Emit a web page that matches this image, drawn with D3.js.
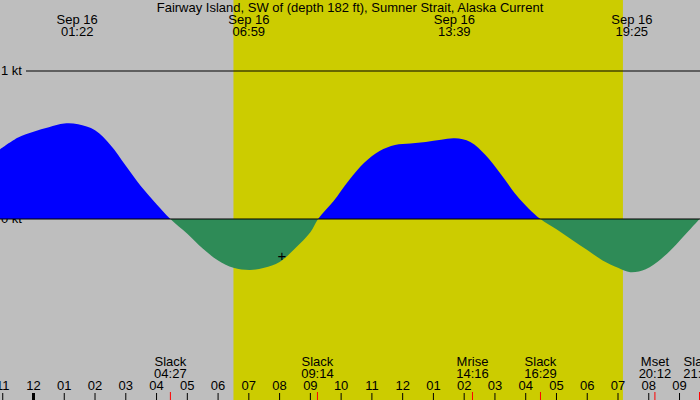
<!DOCTYPE html><html><head><meta charset="utf-8"><script src="https://cdn.jsdelivr.net/npm/d3@7"></script>
<style>body{margin:0}svg{display:block;font-family:"Liberation Sans",Arial,sans-serif;font-size:13px}</style></head><body><svg width="700" height="400"></svg>
<script>
const title="Fairway Island, SW of (depth 182 ft), Sumner Strait, Alaska Current";
const hours=[-0.5,-1.09,0.5,1,1.45,2,2.5,3,3.5,4,4.45,5,5.5,6,6.5,7.04,7.5,8,8.5,9,9.25,9.75,10.25,10.75,11.25,11.75,12.25,12.75,13.25,13.7,14.2,14.7,15.2,15.7,16.1,16.48,17,17.5,18,18.5,19,19.4,19.9,20.4,20.9,21.3,21.65];
const speeds=[0.55,0.47,0.62,0.645,0.64,0.6,0.5,0.36,0.22,0.1,0,-0.1,-0.2,-0.28,-0.33,-0.345,-0.33,-0.29,-0.2,-0.09,0,0.12,0.26,0.38,0.46,0.5,0.51,0.52,0.535,0.545,0.52,0.43,0.3,0.16,0.07,0,-0.07,-0.14,-0.21,-0.28,-0.33,-0.36,-0.34,-0.27,-0.17,-0.08,0];
const hours0=[0];const speeds0=[0.59];
const daylight=[6.5,19.16];
const topLabels=[{h:1.42,d:"Sep 16",t:"01:22"},{h:7.0,d:"Sep 16",t:"06:59"},{h:13.68,d:"Sep 16",t:"13:39"},{h:19.45,d:"Sep 16",t:"19:25"}];
const events=[{h:4.45,n:"Slack",t:"04:27"},{h:9.23,n:"Slack",t:"09:14"},{h:14.27,n:"Mrise",t:"14:16"},{h:16.48,n:"Slack",t:"16:29"},{h:20.2,n:"Mset",t:"20:12"},{h:21.65,n:"Slack",t:"21:39"}];
const tickHours=d3.range(-1,22);
const tickLabels=tickHours.map(h=>{let v=((h%12)+12)%12;return String(v===0?12:v).padStart(2,"0");});
const kts=[0,1];
const svg=d3.select("svg");
const x=d3.scaleLinear().domain([0,19]).range([33.5,618]);
const y=d3.scaleLinear().domain([0,1]).range([219,71]);
svg.append("rect").attr("width",700).attr("height",400).attr("fill","#bebebe");
svg.append("rect").attr("x",x(daylight[0])).attr("width",x(daylight[1])-x(daylight[0])).attr("y",0).attr("height",400).attr("fill","#cccc00");
svg.append("text").attr("x",350).attr("y",12).attr("text-anchor","middle").text(title);
topLabels.forEach(l=>{const g=svg.append("g").attr("text-anchor","middle");g.append("text").attr("x",x(l.h)).attr("y",24).text(l.d);g.append("text").attr("x",x(l.h)).attr("y",36).text(l.t);});
kts.forEach(k=>{svg.append("text").attr("x",1).attr("y",y(k)+4).text(k+" kt");});
svg.append("line").attr("x1",26).attr("x2",700).attr("y1",y(1)).attr("y2",y(1)).attr("stroke","#000");
let pts=hours.map((h,i)=>[h,speeds[i]]).concat(hours0.map((h,i)=>[h,speeds0[i]])).sort((a,b)=>a[0]-b[0]);
const area=d3.area().x(d=>x(d[0])).y0(y(0)).y1(d=>y(d[1])).curve(d3.curveCatmullRom.alpha(0.5));
const defs=svg.append("defs");
defs.append("clipPath").attr("id","pos").append("rect").attr("x",0).attr("y",0).attr("width",700).attr("height",y(0));
defs.append("clipPath").attr("id","neg").append("rect").attr("x",0).attr("y",y(0)).attr("width",700).attr("height",400);
svg.append("path").attr("d",area(pts)).attr("fill","#0000ff").attr("clip-path","url(#pos)");
svg.append("path").attr("d",area(pts)).attr("fill","#2e8b57").attr("clip-path","url(#neg)");
svg.append("line").attr("x1",0).attr("x2",700).attr("y1",y(0)).attr("y2",y(0)).attr("stroke","#000");
svg.append("text").attr("x",x(8.07)).attr("y",y(-0.25)+5).attr("text-anchor","middle").attr("font-size",15).text("+");
events.forEach(e=>{const g=svg.append("g").attr("text-anchor","middle");g.append("text").attr("x",x(e.h)).attr("y",366).text(e.n);g.append("text").attr("x",x(e.h)).attr("y",378).text(e.t);
svg.append("line").attr("x1",x(e.h)).attr("x2",x(e.h)).attr("y1",392).attr("y2",400).attr("stroke","red");});
tickHours.forEach((h,i)=>{svg.append("text").attr("x",x(h)).attr("y",390).attr("text-anchor","middle").text(tickLabels[i]);
svg.append("line").attr("x1",x(h)).attr("x2",x(h)).attr("y1",393).attr("y2",400).attr("stroke","#000").attr("stroke-width",h===0?3:1);});
</script></body></html>
